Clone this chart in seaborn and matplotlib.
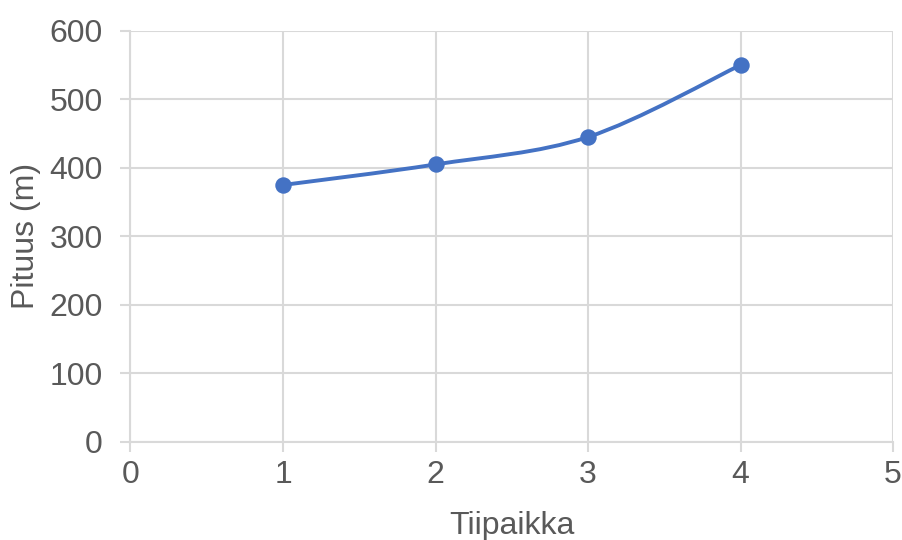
import numpy as np
import pandas as pd
import seaborn as sns
import matplotlib.pyplot as plt
from matplotlib.path import Path
from matplotlib.patches import PathPatch

# data
tiipaikka = [1, 2, 3, 4]
pituus = [375, 405, 445, 550]
x_ticks = [0, 1, 2, 3, 4, 5]
y_ticks = [0, 100, 200, 300, 400, 500, 600]

sns.set_theme(style="whitegrid")
plt.rcParams['font.family'] = ['Liberation Sans', 'DejaVu Sans']

blue = '#4472C4'
grey_txt = '#595959'
grid_col = '#D9D9D9'

df = pd.DataFrame({'Tiipaikka': tiipaikka, 'Pituus': pituus})

fig = plt.figure(figsize=(9.03, 5.40), dpi=100)
ax = fig.add_axes([0.1445, 0.1815, 0.989 - 0.1445, 0.943 - 0.1815])

# smoothed line like Excel (catmull-rom -> bezier)
pts = np.column_stack([df['Tiipaikka'], df['Pituus']]).astype(float)
verts = [pts[0]]
codes = [Path.MOVETO]
n = len(pts)
for i in range(n - 1):
    p0 = pts[i - 1] if i > 0 else pts[i]
    p1 = pts[i]
    p2 = pts[i + 1]
    p3 = pts[i + 2] if i + 2 < n else pts[i + 1]
    c1 = p1 + (p2 - p0) / 6.0
    c2 = p2 - (p3 - p1) / 6.0
    verts += [c1, c2, p2]
    codes += [Path.CURVE4] * 3
ax.add_patch(PathPatch(Path(verts, codes), facecolor='none', edgecolor=blue,
                       linewidth=2.8, zorder=3, capstyle='round'))

sns.scatterplot(data=df, x='Tiipaikka', y='Pituus', ax=ax, color=blue,
                s=140, edgecolor=blue, linewidth=0, zorder=4)

ax.set_xlim(0, 5)
ax.set_ylim(0, 600)
ax.set_xticks(x_ticks)
ax.set_yticks(y_ticks)
ax.grid(True, color=grid_col, linewidth=1.5)
ax.set_axisbelow(True)
for s in ['top', 'right']:
    ax.spines[s].set_visible(False)
for s in ['left', 'bottom']:
    ax.spines[s].set_color(grid_col)
    ax.spines[s].set_linewidth(1.5)
ax.tick_params(axis='both', which='major', length=7, width=1.5, color=grid_col,
               labelsize=23, labelcolor=grey_txt, direction='out',
               bottom=True, left=True)
ax.tick_params(axis='y', pad=13)
ax.tick_params(axis='x', pad=6)
ax.set_xlabel('Tiipaikka', fontsize=23, color=grey_txt, labelpad=15)
ax.set_ylabel('Pituus (m)', fontsize=23, color=grey_txt, labelpad=6)

fig.savefig('out.png', dpi=100)
